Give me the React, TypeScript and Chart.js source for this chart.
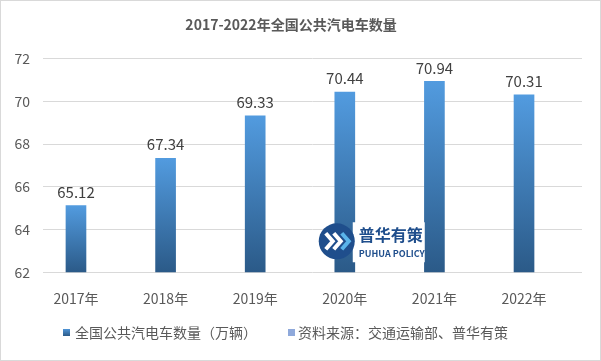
import React, { useEffect, useRef } from "react";
import { Chart, registerables } from "chart.js";

Chart.register(...registerables);

const years = ["2017年", "2018年", "2019年", "2020年", "2021年", "2022年"];
const busCounts = [65.12, 67.34, 69.33, 70.44, 70.94, 70.31];
const titleText = "2017-2022年全国公共汽电车数量";
const seriesName = "全国公共汽电车数量（万辆）";
const sourceText = "资料来源：交通运输部、普华有策";

const FONT = "'Noto Sans CJK SC', 'Noto Sans', sans-serif";

const valueLabels = {
  id: "valueLabels",
  afterDatasetsDraw(chart: any) {
    const ctx = chart.ctx;
    const meta = chart.getDatasetMeta(0);
    ctx.save();
    ctx.font = `15px ${FONT}`;
    ctx.fillStyle = "#404040";
    ctx.textAlign = "center";
    ctx.textBaseline = "bottom";
    meta.data.forEach((bar: any, i: number) => {
      ctx.fillText(busCounts[i].toFixed(2), bar.x, bar.y - 6);
    });
    ctx.restore();
  },
};

const watermark = {
  id: "watermark",
  afterDatasetsDraw(chart: any) {
    const ctx = chart.ctx;
    const ca = chart.chartArea;
    const cx = ca.left + (ca.right - ca.left) * 0.545;
    const cy = ca.top + (ca.bottom - ca.top) * 0.855;
    ctx.save();
    ctx.fillStyle = "#ffffff";
    ctx.fillRect(cx + 16, cy - 19, 72, 40);
    ctx.beginPath();
    ctx.arc(cx, cy, 18, 0, Math.PI * 2);
    ctx.fillStyle = "#1f4e8c";
    ctx.fill();
    const chev = (x: number, color: string) => {
      ctx.beginPath();
      ctx.moveTo(x - 4, cy - 8);
      ctx.lineTo(x + 3, cy);
      ctx.lineTo(x - 4, cy + 8);
      ctx.strokeStyle = color;
      ctx.lineWidth = 4;
      ctx.stroke();
    };
    chev(cx - 7, "#ffffff");
    chev(cx + 1, "#ffffff");
    chev(cx + 9, "#5ab4ea");
    ctx.fillStyle = "#1f4e8c";
    ctx.textAlign = "left";
    ctx.textBaseline = "middle";
    ctx.font = `bold 16px ${FONT}`;
    ctx.fillText("普华有策", cx + 22, cy - 6);
    ctx.font = `bold 9px ${FONT}`;
    ctx.fillText("PUHUA POLICY", cx + 22, cy + 12);
    ctx.restore();
  },
};

export default function App() {
  const ref = useRef<HTMLCanvasElement>(null);

  useEffect(() => {
    const canvas = ref.current!;
    const chart = new Chart(canvas, {
      type: "bar",
      data: {
        datasets: [
          {
            label: seriesName,
            data: busCounts.map((v, i) => ({ x: i, y: v })),
            barThickness: 20,
            backgroundColor: (c: any) => {
              const ch = c.chart;
              const ys = ch.scales?.y;
              if (!ys || !ch.chartArea || c.raw == null) return "#3f7fbf";
              const top = ys.getPixelForValue(c.raw.y);
              const bottom = ys.getPixelForValue(ys.min);
              const g = ch.ctx.createLinearGradient(0, top, 0, bottom);
              g.addColorStop(0, "#529bdf");
              g.addColorStop(1, "#2b5a88");
              return g;
            },
          } as any,
        ],
      },
      options: {
        responsive: false,
        animation: false,
        layout: { padding: { left: 0, right: 19, top: 0, bottom: 44 } },
        plugins: {
          legend: { display: false },
          tooltip: { enabled: false },
          title: {
            display: true,
            text: titleText,
            color: "#595959",
            font: { family: FONT, size: 14, weight: "bold" },
            padding: { top: 16, bottom: 26 },
          },
        },
        scales: {
          x: {
            type: "linear",
            offset: false,
            min: -0.368,
            max: 5.647,
            grid: { display: false },
            border: { display: false },
            afterBuildTicks: (axis: any) => {
              axis.ticks = years.map((_, i) => ({ value: i }));
            },
            ticks: {
              padding: 10,
              color: "#595959",
              font: { family: FONT, size: 14 },
              callback: (v: any) => years[v] ?? "",
              maxRotation: 0,
              autoSkip: false,
            },
          },
          y: {
            min: 62,
            max: 72,
            afterFit: (axis: any) => {
              axis.width = 43;
            },
            ticks: {
              stepSize: 2,
              padding: 13,
              color: "#595959",
              font: { family: FONT, size: 14 },
            },
            grid: { color: "#d9d9d9", drawTicks: false },
            border: { display: false },
          },
        },
      },
      plugins: [valueLabels, watermark],
    } as any);
    return () => chart.destroy();
  }, []);

  const legendText: React.CSSProperties = {
    position: "absolute",
    top: 322,
    fontFamily: FONT,
    fontSize: 14,
    color: "#595959",
    whiteSpace: "nowrap",
    lineHeight: "18px",
  };
  const sq: React.CSSProperties = { position: "absolute", top: 328, width: 7, height: 7 };

  return (
    <div
      style={{
        position: "fixed",
        left: 0,
        top: 0,
        width: 601,
        height: 361,
        boxSizing: "border-box",
        border: "1px solid #d9d9d9",
        background: "#ffffff",
      }}
    >
      <canvas
        ref={ref}
        width={601}
        height={361}
        style={{ position: "absolute", left: -1, top: -1, width: 601, height: 361 }}
      />
      <div style={{ ...sq, left: 62, background: "linear-gradient(#4f94d6, #2b5a88)" }} />
      <div style={{ ...legendText, left: 74 }}>{seriesName}</div>
      <div style={{ ...sq, left: 287, background: "#8fa9db" }} />
      <div style={{ ...legendText, left: 297 }}>{sourceText}</div>
    </div>
  );
}
